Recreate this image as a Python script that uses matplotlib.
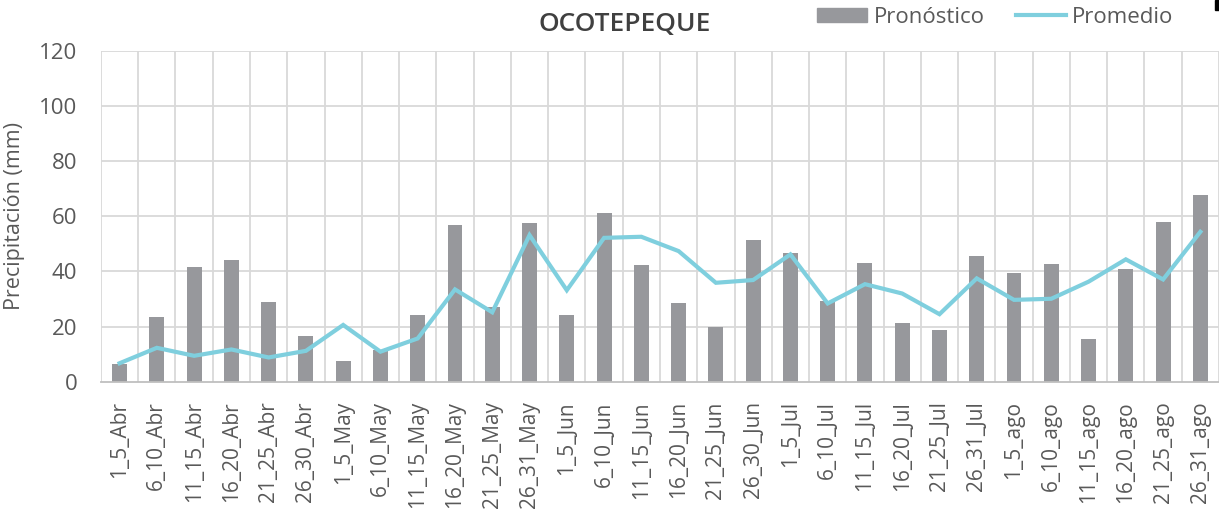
import matplotlib
matplotlib.use('Agg')
from matplotlib import pyplot as plt
from matplotlib.patches import Rectangle
from matplotlib.lines import Line2D
import numpy as np

plt.rcParams['font.family'] = ['Open Sans', 'DejaVu Sans']

periodos = ["1_5_Abr", "6_10_Abr", "11_15_Abr", "16_20_Abr", "21_25_Abr", "26_30_Abr",
            "1_5_May", "6_10_May", "11_15_May", "16_20_May", "21_25_May", "26_31_May",
            "1_5_Jun", "6_10_Jun", "11_15_Jun", "16_20_Jun", "21_25_Jun", "26_30_Jun",
            "1_5_Jul", "6_10_Jul", "11_15_Jul", "16_20_Jul", "21_25_Jul", "26_31_Jul",
            "1_5_ago", "6_10_ago", "11_15_ago", "16_20_ago", "21_25_ago", "26_31_ago"]

pronostico = [6.3, 23.6, 41.5, 44.0, 29.0, 16.5, 7.6, 11.5, 24.2, 56.7,
              27.0, 57.7, 24.2, 61.2, 42.2, 28.4, 19.7, 51.4, 46.6, 29.3,
              42.9, 21.4, 18.7, 45.6, 39.3, 42.6, 15.5, 41.0, 58.0, 67.9]

promedio = [6.7, 12.3, 9.4, 11.7, 8.8, 11.2, 20.6, 10.9, 15.7, 33.5,
            25.2, 53.2, 33.2, 52.2, 52.6, 47.4, 35.9, 36.9, 46.2, 28.4,
            35.4, 32.0, 24.5, 37.5, 29.7, 30.1, 36.3, 44.4, 37.1, 54.4]

gris_texto = "#595959"
gris_barra = "#97989C"
azul = "#7FCFDE"

fig = plt.figure(figsize=(12.19, 5.18), dpi=100)
ax = fig.add_axes([0.0828, 0.2631, 1 - 0.0828, 0.9015 - 0.2631])

x = np.arange(len(periodos))
ax.bar(x, pronostico, width=0.40, color=gris_barra, zorder=2, label="Pronóstico")
ax.plot(x, promedio, color=azul, linewidth=3, zorder=3, label="Promedio",
        solid_joinstyle='miter')

ax.set_xlim(-0.5, len(periodos) - 0.5)
ax.set_ylim(0, 120)
ax.set_yticks(np.arange(0, 121, 20))

# rejilla: verticales entre categorias, horizontales cada 20 mm
for b in np.arange(-0.5, len(periodos), 1.0):
    ax.axvline(b, color="#D9D9D9", linewidth=1.3, zorder=1)
for v in np.arange(20, 121, 20):
    ax.axhline(v, color="#D9D9D9", linewidth=1.3, zorder=1)

for s in ['top', 'right', 'left']:
    ax.spines[s].set_visible(False)
ax.spines['bottom'].set_color("#BFBFBF")
ax.spines['bottom'].set_linewidth(1.3)
ax.spines['bottom'].set_zorder(4)

ax.set_xticks(x)
ax.set_xticklabels(periodos, rotation=90, fontsize=15, color=gris_texto)
ax.tick_params(axis='x', length=0, pad=14)
ax.tick_params(axis='y', length=0, pad=17, labelsize=16, labelcolor=gris_texto)

ax.set_ylabel("Precipitación (mm)", fontsize=15.5, color=gris_texto)
ax.yaxis.set_label_coords(-0.068, 0.5)

fig.text(0.5127, 0.953, "OCOTEPEQUE", ha='center', va='center', fontsize=19,
         color="#404040", fontweight='semibold')

handles = [Rectangle((0, 0), 1, 1, color=gris_barra),
           Line2D([0], [0], color=azul, linewidth=3)]
fig.legend(handles, ["Pronóstico", "Promedio"], loc='center left',
           bbox_to_anchor=(0.670, 0.967), ncol=2, frameon=False, fontsize=16,
           handlelength=2.25, handleheight=0.62, handletextpad=0.3,
           columnspacing=1.4, labelcolor=gris_texto, borderpad=0, borderaxespad=0)

fig.patches.append(Rectangle((1215 / 1219, 1 - 10 / 518), 4 / 1219, 10 / 518,
                             transform=fig.transFigure, color='black'))

fig.savefig("out.png", dpi=100)
